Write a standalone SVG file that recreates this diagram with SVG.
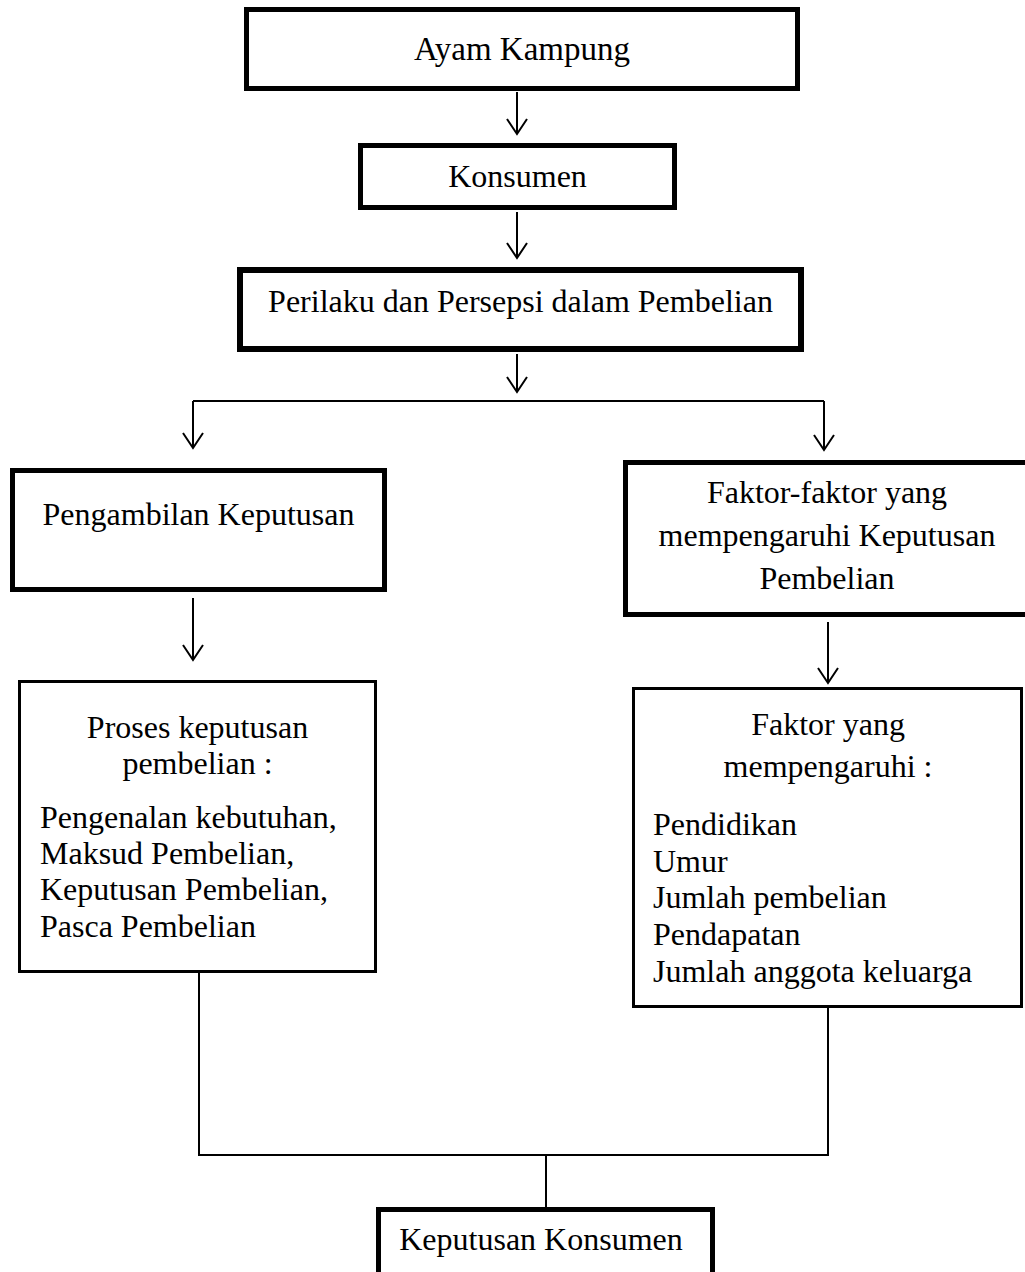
<svg xmlns="http://www.w3.org/2000/svg" width="1025" height="1272" viewBox="0 0 1025 1272">
<style>
  .box { fill: #fff; stroke: #000; }
  .thick { stroke-width: 5; }
  .thin { stroke-width: 3; }
  .t { font-family: "Liberation Serif", "Times New Roman", serif; font-size: 32px; fill: #000; }
  .c { text-anchor: middle; }
  .conn { fill: none; stroke: #000; stroke-width: 2; }
</style>
<defs>
  <marker id="arr" markerUnits="userSpaceOnUse" markerWidth="30" markerHeight="30" refX="0" refY="0" orient="auto" overflow="visible">
    <path d="M-15,-10 L0,0 L-15,10" fill="none" stroke="#000" stroke-width="2"/>
  </marker>
</defs>
<rect width="1025" height="1272" fill="#fff"/>

<g id="connectors">
  <line class="conn" x1="517" y1="92" x2="517" y2="134" marker-end="url(#arr)"/>
  <line class="conn" x1="517" y1="212" x2="517" y2="258" marker-end="url(#arr)"/>
  <line class="conn" x1="517" y1="354" x2="517" y2="392" marker-end="url(#arr)"/>
  <path class="conn" d="M193,401 H824"/>
  <line class="conn" x1="193" y1="401" x2="193" y2="448" marker-end="url(#arr)"/>
  <line class="conn" x1="824" y1="401" x2="824" y2="450" marker-end="url(#arr)"/>
  <line class="conn" x1="193" y1="598" x2="193" y2="660" marker-end="url(#arr)"/>
  <line class="conn" x1="828" y1="622" x2="828" y2="683" marker-end="url(#arr)"/>
  <path class="conn" d="M199,973 V1155 H828 V1008"/>
  <path class="conn" d="M546,1155 V1208"/>
</g>

<g id="node-ayam-kampung">
  <rect class="box thick" x="246.5" y="9.5" width="551" height="79"/>
  <text class="t c" x="522" y="60" style="font-size:33px">Ayam Kampung</text>
</g>

<g id="node-konsumen">
  <rect class="box thick" x="360.5" y="145.5" width="314" height="62"/>
  <text class="t c" x="517.5" y="187">Konsumen</text>
</g>

<g id="node-perilaku">
  <rect class="box" stroke-width="6" x="240" y="270" width="561" height="79"/>
  <text class="t c" x="520.5" y="312">Perilaku dan Persepsi dalam Pembelian</text>
</g>

<g id="node-pengambilan">
  <rect class="box thick" x="12.5" y="470.5" width="372" height="119"/>
  <text class="t c" x="198.5" y="525">Pengambilan Keputusan</text>
</g>

<g id="node-faktor-faktor">
  <rect class="box thick" x="625.5" y="462.5" width="410" height="152"/>
  <text class="t c" x="827" y="503">Faktor-faktor yang</text>
  <text class="t c" x="827" y="546">mempengaruhi Keputusan</text>
  <text class="t c" x="827" y="589">Pembelian</text>
</g>

<g id="node-proses">
  <rect class="box thin" x="19.5" y="681.5" width="356" height="290"/>
  <text class="t c" x="197.5" y="738">Proses keputusan</text>
  <text class="t c" x="197.5" y="774">pembelian :</text>
  <text class="t" x="40" y="828">Pengenalan kebutuhan,</text>
  <text class="t" x="40" y="864">Maksud Pembelian,</text>
  <text class="t" x="40" y="900">Keputusan Pembelian,</text>
  <text class="t" x="40" y="937">Pasca Pembelian</text>
</g>

<g id="node-faktor-yang">
  <rect class="box thin" x="633.5" y="688.5" width="388" height="318"/>
  <text class="t c" x="828" y="735">Faktor yang</text>
  <text class="t c" x="828" y="777">mempengaruhi :</text>
  <text class="t" x="653" y="835">Pendidikan</text>
  <text class="t" x="653" y="872">Umur</text>
  <text class="t" x="653" y="908">Jumlah pembelian</text>
  <text class="t" x="653" y="945">Pendapatan</text>
  <text class="t" x="653" y="982">Jumlah anggota keluarga</text>
</g>

<g id="node-keputusan-konsumen">
  <rect class="box thick" x="378.5" y="1209.5" width="334" height="90"/>
  <text class="t c" x="541" y="1250">Keputusan Konsumen</text>
</g>
</svg>
